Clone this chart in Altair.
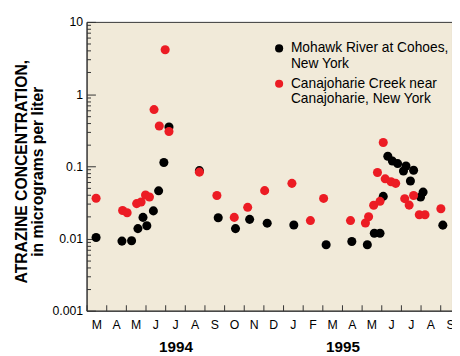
import calendar
import altair as alt
import pandas as pd

# ---- data (sample date, atrazine concentration ug/L) ----
mohawk_dates = [
    "1994-03-16", "1994-04-25", "1994-05-10", "1994-05-20", "1994-05-28",
    "1994-06-03", "1994-06-13", "1994-06-21", "1994-06-29", "1994-07-07",
    "1994-08-24", "1994-09-22", "1994-10-19", "1994-11-10", "1994-12-07",
    "1995-01-18", "1995-03-07", "1995-04-16", "1995-05-10", "1995-05-21",
    "1995-05-30", "1995-06-04", "1995-06-11", "1995-06-18", "1995-06-26",
    "1995-07-05", "1995-07-09", "1995-07-16", "1995-07-21", "1995-08-01",
    "1995-08-05", "1995-09-05",
]
mohawk_values = [
    0.0103, 0.0092, 0.0093, 0.0137, 0.0196,
    0.0150, 0.0241, 0.0457, 0.113, 0.35,
    0.087, 0.0194, 0.0137, 0.0184, 0.0163,
    0.0154, 0.0082, 0.0091, 0.0082, 0.0118,
    0.0118, 0.0383, 0.138, 0.118, 0.109,
    0.086, 0.101, 0.0625, 0.088, 0.0375,
    0.0439, 0.0153,
]
canajoharie_dates = [
    "1994-03-16", "1994-04-26", "1994-05-03", "1994-05-18", "1994-05-25",
    "1994-06-01", "1994-06-07", "1994-06-14", "1994-06-22", "1994-07-01",
    "1994-07-07", "1994-08-24", "1994-09-20", "1994-10-17", "1994-11-07",
    "1994-12-03", "1995-01-15", "1995-02-12", "1995-03-03", "1995-04-14",
    "1995-05-07", "1995-05-12", "1995-05-20", "1995-05-30", "1995-05-26",
    "1995-06-04", "1995-06-07", "1995-06-16", "1995-06-23", "1995-07-07",
    "1995-07-14", "1995-07-21", "1995-07-30", "1995-08-08", "1995-09-02",
]
canajoharie_values = [
    0.036, 0.0244, 0.0227, 0.0304, 0.032,
    0.040, 0.0375, 0.61, 0.361, 4.12,
    0.303, 0.083, 0.0394, 0.0196, 0.027,
    0.046, 0.058, 0.0177, 0.0359, 0.0177,
    0.0164, 0.020, 0.0288, 0.0327, 0.082,
    0.214, 0.067, 0.061, 0.058, 0.0356,
    0.029, 0.0394, 0.0213, 0.0213, 0.0258,
]
series_names = ["Mohawk River at Cohoes,\nNew York",
                "Canajoharie Creek near\nCanajoharie, New York"]
series_colors = ["#000000", "#EC1C24"]

month_letters = ["M", "A", "M", "J", "J", "A", "S", "O", "N", "D",
                 "J", "F", "M", "A", "M", "J", "J", "A", "S"]
year_labels = ["1994", "1995"]
year_label_month = [4.55, 13.05]          # position along the month axis
y_label_values = [0.001, 0.01, 0.1, 1, 10]
y_minor_ticks = [m * 10.0 ** e for e in range(-3, 1) for m in range(2, 10)]


def month_index(s):
    """Months elapsed since 1 March 1994 (uniform month width, as drawn)."""
    y, m, d = map(int, s.split("-"))
    return (y - 1994) * 12 + (m - 3) + (d - 1) / calendar.monthrange(y, m)[1]


rows = []
for name, dates, vals in [(series_names[0], mohawk_dates, mohawk_values),
                          (series_names[1], canajoharie_dates, canajoharie_values)]:
    for d, v in zip(dates, vals):
        rows.append({"series": name, "month": month_index(d), "value": v})
pts = pd.DataFrame(rows)
pts["draw"] = range(len(pts))

W, H = 372, 294
FONT = "Liberation Sans"
AXC = "#333333"

xscale = alt.Scale(domain=[0, 18.6], nice=False, zero=False)
yscale = alt.Scale(type="log", domain=[0.001, 10], nice=False)

# x axis: ticks at month boundaries (integers), letters at mid-month (halves)
x_values = []
for i in range(len(month_letters)):
    x_values += [i, i + 0.5]
letters = "[" + ",".join("'%s'" % c for c in month_letters) + "]"
IS_MID = "datum.value % 1 != 0"
x_axis = alt.Axis(
    orient="bottom", values=x_values,
    labelExpr=f"{IS_MID} ? {letters}[floor(datum.value)] : ''",
    ticks=True, tickColor=AXC, tickWidth=1, tickSize=alt.ExprRef(expr="-6"),
    tickOpacity={"condition": {"test": IS_MID, "value": 0}, "value": 1},
    grid=False, title=None, domain=True, domainColor=AXC,
    labelFont=FONT, labelFontSize=12.5, labelColor="#000000",
    labelPadding=14, labelFlush=False, labelOverlap=False)

# y axis: labels at decades, long ticks at decades, short ticks between
IS_DEC = "abs(log(datum.value)/LN10 - round(log(datum.value)/LN10)) < 0.001"
y_axis = alt.Axis(
    orient="left", values=y_label_values + y_minor_ticks,
    labelExpr=f"{IS_DEC} ? format(datum.value, '~g') : ''",
    ticks=True, tickColor=AXC, tickWidth=1, tickSize=alt.ExprRef(expr="-9"),
    tickDash={"condition": {"test": IS_DEC, "value": [20, 1]}, "value": [4, 20]},
    grid=False, domain=True, domainColor=AXC,
    labelFont=FONT, labelFontSize=12.5, labelColor="#000000",
    labelPadding=13, labelFlush=False, labelOverlap=False,
    title=["ATRAZINE CONCENTRATION,", "in micrograms per liter"],
    titleFont=FONT, titleFontSize=16, titleFontWeight="bold",
    titleColor="#000000", titleLineHeight=17, titleAngle=270,
    titleAlign="center", titleBaseline="top", titleX=-74.5, titleY=152)

points = alt.Chart(pts).mark_circle(size=85, opacity=1).encode(
    x=alt.X("month:Q", scale=xscale, axis=x_axis),
    y=alt.Y("value:Q", scale=yscale, axis=y_axis),
    color=alt.Color("series:N", scale=alt.Scale(domain=series_names, range=series_colors),
                    legend=alt.Legend(
                        orient="none", legendX=189, legendY=20, title=None,
                        labelExpr="split(datum.label, '\\n')", labelFont=FONT,
                        labelFontSize=14, labelColor="#000000", labelLimit=400,
                        symbolType="circle", symbolSize=68, symbolStrokeWidth=0,
                        symbolOpacity=1, padding=0, rowPadding=6, labelOffset=5)),
    order=alt.Order("draw:Q"),
)

years = pd.DataFrame({"label": year_labels, "pos": year_label_month})
year_text = alt.Chart(years).mark_text(
    font=FONT, fontSize=15.5, fontWeight="bold", baseline="alphabetic",
    align="center", color="#000000").encode(
    x=alt.X("pos:Q", scale=xscale, axis=x_axis), y=alt.value(336), text="label:N")

chart = alt.layer(points, year_text).properties(
    width=W, height=H, autosize="none",
    padding={"left": 80, "top": 11, "right": 0, "bottom": 43},
    background="#FFFFFF",
).configure_view(stroke=AXC, strokeWidth=1, fill="#F1EAD9")

chart.save("out.html", embed_options={"renderer": "svg", "actions": False})
